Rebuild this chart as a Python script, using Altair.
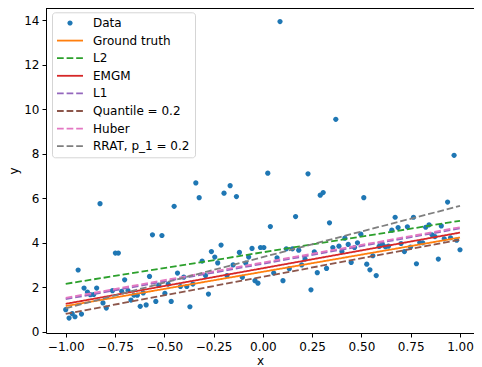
import altair as alt
import pandas as pd

# ---- data ----
x_data = [-1.000, -0.983, -0.967, -0.953, -0.937, -0.920, -0.907, -0.890, -0.875, -0.858,
          -0.843, -0.826, -0.811, -0.794, -0.763, -0.748, -0.733, -0.716, -0.701, -0.684,
          -0.669, -0.654, -0.637, -0.622, -0.607, -0.592, -0.575, -0.560, -0.543, -0.528,
          -0.512, -0.497, -0.480, -0.465, -0.450, -0.433, -0.418, -0.401, -0.386, -0.370,
          -0.355, -0.340, -0.323, -0.308, -0.291, -0.276, -0.261, -0.244, -0.229, -0.212,
          -0.197, -0.182, -0.166, -0.151, -0.134, -0.119, -0.104, -0.087, -0.072, -0.055,
          -0.040, -0.025, -0.012, 0.005, 0.025, 0.038, 0.055, 0.072, 0.087, 0.102,
          0.119, 0.134, 0.150, 0.166, 0.182, 0.197, 0.214, 0.229, 0.244, 0.261,
          0.276, 0.291, 0.306, 0.323, 0.338, 0.355, 0.370, 0.386, 0.401, 0.416,
          0.433, 0.448, 0.465, 0.480, 0.497, 0.512, 0.527, 0.543, 0.558, 0.575,
          0.590, 0.606, 0.622, 0.637, 0.654, 0.671, 0.686, 0.701, 0.718, 0.733,
          0.749, 0.764, 0.779, 0.796, 0.811, 0.826, 0.843, 0.858, 0.873, 0.890,
          0.905, 0.920, 0.937, 0.952, 0.970, 0.983, 1.000]
y_data = [0.99, 0.61, 0.81, 0.67, 2.77, 0.79, 1.96, 1.78, 1.66, 1.67,
          1.96, 5.75, 1.29, 1.06, 1.84, 3.53, 3.53, 1.81, 2.33, 1.85,
          1.42, 1.64, 1.64, 1.14, 1.74, 1.20, 2.48, 4.35, 1.36, 2.09,
          4.32, 1.72, 2.14, 1.36, 5.63, 2.63, 2.03, 2.45, 2.03, 1.12,
          2.14, 6.68, 6.02, 3.17, 2.52, 1.69, 3.60, 3.35, 3.09, 3.89,
          6.22, 2.52, 6.56, 3.00, 6.07, 3.56, 2.44, 3.08, 3.35, 3.74,
          2.29, 2.18, 3.78, 3.78, 7.12, 4.72, 2.63, 3.32, 13.93, 2.29,
          3.72, 2.83, 3.72, 5.17, 3.66, 3.00, 3.26, 7.09, 1.88, 3.59,
          2.65, 6.13, 6.25, 2.84, 4.89, 3.78, 9.54, 3.84, 3.60, 4.20,
          3.92, 3.11, 3.78, 3.99, 4.38, 6.02, 3.03, 2.78, 3.41, 2.52,
          3.83, 3.93, 3.81, 3.84, 4.56, 5.14, 4.68, 3.96, 3.60, 4.71,
          3.80, 5.14, 3.05, 4.00, 3.99, 4.69, 4.80, 4.35, 4.27, 3.26,
          4.75, 4.17, 5.82, 4.22, 7.92, 4.11, 3.68]

series_names = ["Data", "Ground truth", "L2", "EMGM", "L1", "Quantile = 0.2", "Huber", "RRAT, p_1 = 0.2"]
series_colors = ["#1f77b4", "#ff7f0e", "#2ca02c", "#d62728", "#9467bd", "#8c564b", "#e377c2", "#7f7f7f"]
series_dashed = [False, False, True, False, True, True, True, True]

line_names = ["Ground truth", "L2", "EMGM", "L1", "Quantile = 0.2", "Huber", "RRAT, p_1 = 0.2"]
line_x_start = [-1.0] * 7
line_x_end = [1.0] * 7
line_y_start = [1.15, 2.15, 1.25, 1.46, 0.80, 1.52, 1.05]
line_y_end = [4.23, 4.98, 4.45, 4.64, 4.13, 4.69, 5.65]

x_ticks = [-1.0, -0.75, -0.5, -0.25, 0.0, 0.25, 0.5, 0.75, 1.0]
y_ticks = [0, 2, 4, 6, 8, 10, 12, 14]

# ---- tables ----
pts = pd.DataFrame({"x": x_data, "y": y_data, "series": "Data"})
rows = []
for i, n in enumerate(line_names):
    rows.append({"x": line_x_start[i], "y": line_y_start[i], "series": n, "k": i})
    rows.append({"x": line_x_end[i], "y": line_y_end[i], "series": n, "k": i})
lines = pd.DataFrame(rows)

FONT = "DejaVu Sans"
FS = 12
SYM = 144          # symbol box 12px -> 1 path unit = 6px
R = 0.433          # dot radius 2.6px
T = 0.15           # legend line half-thickness 0.9px
circle_path = f"M{-R},0A{R},{R},0,1,1,{R},0A{R},{R},0,1,1,{-R},0Z"


def rect(a, b):
    return f"M{a},{-T}L{b},{-T}L{b},{T}L{a},{T}Z"


solid_path = rect(-2.167, 2.167)
dash_path = rect(-2.167, -1.05) + rect(-0.567, 0.55) + rect(1.033, 2.15)
shape_range = [circle_path] + [dash_path if d else solid_path for d in series_dashed[1:]]
DASH = [6.7, 2.9]
dash_range = [DASH if d else [1, 0] for d in series_dashed]

color_scale = alt.Scale(domain=series_names, range=series_colors)
shape_scale = alt.Scale(domain=series_names, range=shape_range)
dash_scale = alt.Scale(domain=series_names, range=dash_range)

legend = alt.Legend(title=None, orient="none", legendX=6, legendY=4.3,
                    labelFont=FONT, labelFontSize=FS, labelColor="black",
                    symbolSize=SYM, symbolStrokeWidth=0, symbolOffset=7.3,
                    fillColor="white", strokeColor="#d5d5d5", cornerRadius=3,
                    padding=4.7, rowPadding=5.6, labelOffset=17)

xs = alt.X("x:Q", scale=alt.Scale(domain=[-1.1, 1.071], nice=False, zero=False),
           axis=alt.Axis(values=x_ticks, format=".2f", title="x"))
ys = alt.Y("y:Q", scale=alt.Scale(domain=[-0.06, 14.54], nice=False, zero=False),
           axis=alt.Axis(values=y_ticks, format="d", title="y"))

point_layer = alt.Chart(pts).mark_point(filled=True, size=SYM, opacity=1).encode(
    x=xs, y=ys,
    color=alt.Color("series:N", scale=color_scale, legend=legend),
    shape=alt.Shape("series:N", scale=shape_scale, legend=legend),
)

line_layer = alt.Chart(lines).mark_line(strokeWidth=1.8).encode(
    x=xs, y=ys,
    color=alt.Color("series:N", scale=color_scale, legend=legend),
    strokeDash=alt.StrokeDash("series:N", scale=dash_scale, legend=legend),
    detail="k:N",
    order="x:Q",
)

top_spine = alt.Chart(pts).mark_rule(color="black", strokeWidth=1).encode(
    x=alt.value(0), x2=alt.value(428), y=alt.value(0)
)

chart = alt.layer(point_layer, line_layer, top_spine).properties(
    width=428, height=325,
    autosize=alt.AutoSizeParams(type="none"),
    padding={"left": 38, "top": 0, "right": 0, "bottom": 40},
).configure_view(stroke=None).configure_axis(
    domainColor="black", domainWidth=1, tickColor="black", tickWidth=1, tickSize=4,
    labelFont=FONT, labelFontSize=FS, labelColor="black",
    titleFont=FONT, titleFontSize=FS, titleColor="black", titleFontWeight="normal",
    grid=False,
).configure_axisX(labelPadding=4, titlePadding=3).configure_axisY(
    labelPadding=3, titlePadding=3
)

chart.save("out.html", embed_options={"renderer": "svg", "actions": False})
